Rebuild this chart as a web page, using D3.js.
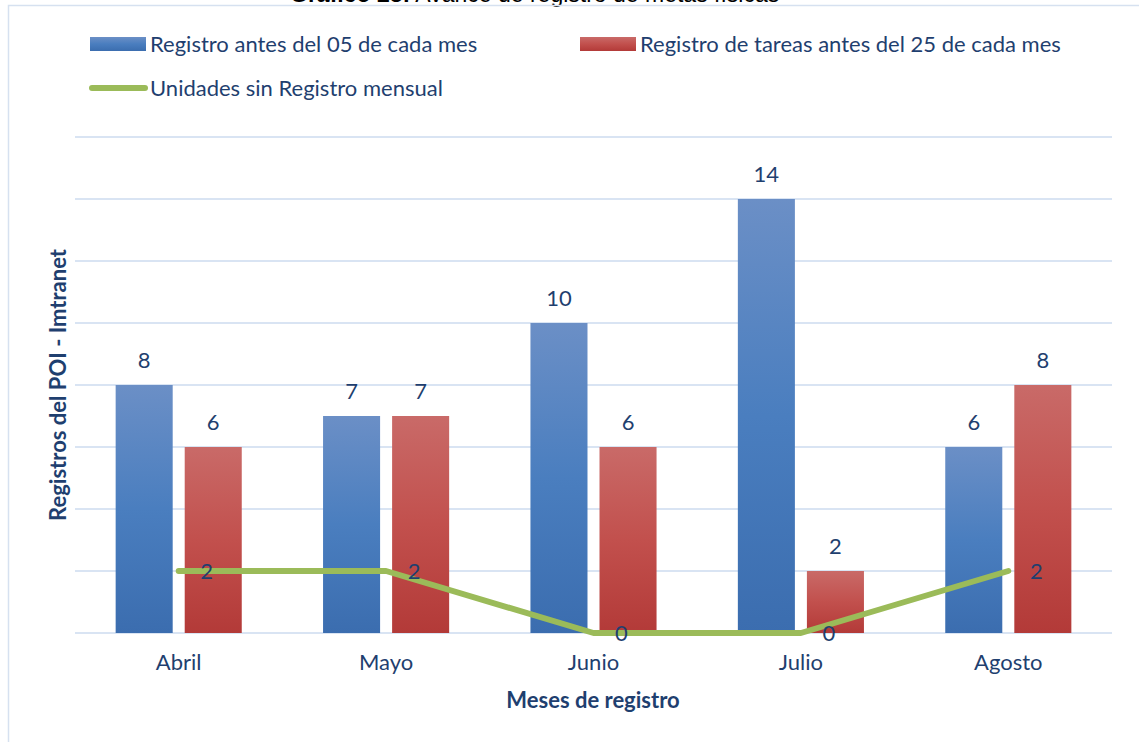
<!DOCTYPE html>
<html>
<head>
<meta charset="utf-8">
<script src="https://cdn.jsdelivr.net/npm/d3@7"></script>
<style>
  body { margin: 0; background: #fff; }
  svg { display: block; }
</style>
</head>
<body>
<div id="chart"></div>
<script>
// data
var months = ["Abril", "Mayo", "Junio", "Julio", "Agosto"];
var seriesNames = ["Registro antes del 05 de cada mes", "Registro de tareas antes del 25 de cada mes"];
var antes05 = [8, 7, 10, 14, 6];
var antes25 = [6, 7, 6, 2, 8];
var sinRegistro = [2, 2, 0, 0, 2];
var lineName = "Unidades sin Registro mensual";
var yTicks = [0, 2, 4, 6, 8, 10, 12, 14, 16];

var width = 1139, height = 742;
var font = "Lato, 'Open Sans', sans-serif";
var fontSize = 22;
var textColor = "#1f3f6f";

var svg = d3.select("#chart").append("svg")
    .attr("width", width)
    .attr("height", height);

// gradients for the bars
var defs = svg.append("defs");
function grad(id, top, mid, bottom) {
    var g = defs.append("linearGradient").attr("id", id)
        .attr("x1", 0).attr("y1", 0).attr("x2", 0).attr("y2", 1);
    g.append("stop").attr("offset", "0%").attr("stop-color", top);
    g.append("stop").attr("offset", "50%").attr("stop-color", mid);
    g.append("stop").attr("offset", "100%").attr("stop-color", bottom);
}
grad("gBlue", "#6b8fc6", "#4a7ebf", "#3b6daf");
grad("gRed", "#c96a68", "#c2504d", "#b33a38");
var fills = ["url(#gBlue)", "url(#gRed)"];

// title, cut off at the top edge as in the source
svg.append("text")
    .attr("x", 290).attr("y", 2)
    .attr("font-family", "'Liberation Sans', Arial, sans-serif")
    .attr("font-size", 23)
    .attr("fill", "#000")
    .html('<tspan font-weight="bold">Gráfico 23:</tspan> Avance de registro de metas físicas');

// chart border
svg.append("path")
    .attr("d", "M8.5," + height + "V5.5H" + width)
    .attr("fill", "none")
    .attr("stroke", "#d6e1f0")
    .attr("stroke-width", 1.5);

// scales
var x0 = d3.scaleBand().domain(months).range([75, 1112])
    .paddingInner(0.392).paddingOuter(0.196);
var x1 = d3.scaleBand().domain([0, 1]).range([0, x0.bandwidth()])
    .paddingInner(0.174).paddingOuter(0);
var y = d3.scaleLinear().domain([0, 16]).range([633, 137]);

// gridlines
svg.append("g").selectAll("line")
    .data(yTicks)
    .join("line")
    .attr("x1", 75).attr("x2", 1112)
    .attr("y1", d => y(d)).attr("y2", d => y(d))
    .attr("stroke", "#d9e4f3")
    .attr("stroke-width", 2);

// bars
var series = [antes05, antes25];
var groups = svg.append("g").selectAll("g")
    .data(months)
    .join("g")
    .attr("transform", d => `translate(${x0(d)},0)`);

groups.selectAll("rect")
    .data((m, i) => series.map((s, k) => ({ k: k, v: s[i] })))
    .join("rect")
    .attr("x", d => x1(d.k))
    .attr("width", x1.bandwidth())
    .attr("y", d => y(d.v))
    .attr("height", d => y(0) - y(d.v))
    .attr("fill", d => fills[d.k]);

groups.selectAll("text.val")
    .data((m, i) => series.map((s, k) => ({ k: k, v: s[i] })))
    .join("text")
    .attr("class", "val")
    .attr("x", d => x1(d.k) + x1.bandwidth() / 2)
    .attr("y", d => y(d.v) - 17)
    .attr("text-anchor", "middle")
    .attr("font-family", font)
    .attr("font-size", fontSize)
    .attr("fill", textColor)
    .text(d => d.v);

// line
var cx = m => x0(m) + x0.bandwidth() / 2;
var line = d3.line()
    .x((d, i) => cx(months[i]))
    .y(d => y(d));
svg.append("path")
    .datum(sinRegistro)
    .attr("d", line)
    .attr("fill", "none")
    .attr("stroke", "#9bbb59")
    .attr("stroke-width", 6)
    .attr("stroke-linecap", "round")
    .attr("stroke-linejoin", "round");

svg.append("g").selectAll("text")
    .data(sinRegistro)
    .join("text")
    .attr("x", (d, i) => cx(months[i]) + 28)
    .attr("y", d => y(d))
    .attr("dy", "0.36em")
    .attr("text-anchor", "middle")
    .attr("font-family", font)
    .attr("font-size", fontSize)
    .attr("fill", textColor)
    .text(d => d);

// x axis labels
var xAxis = svg.append("g")
    .attr("transform", "translate(0,633)")
    .call(d3.axisBottom(x0).tickSize(0).tickPadding(21));
xAxis.select(".domain").remove();
xAxis.selectAll("text")
    .attr("font-family", font)
    .attr("font-size", fontSize)
    .attr("fill", textColor);

// axis titles
svg.append("text")
    .attr("x", 593).attr("y", 708)
    .attr("text-anchor", "middle")
    .attr("font-family", font)
    .attr("font-weight", "bold")
    .attr("font-size", fontSize)
    .attr("fill", textColor)
    .text("Meses de registro");

svg.append("text")
    .attr("transform", "translate(66,385) rotate(-90)")
    .attr("text-anchor", "middle")
    .attr("font-family", font)
    .attr("font-weight", "bold")
    .attr("font-size", fontSize)
    .attr("fill", textColor)
    .text("Registros del POI - Imtranet");

// legend
var legend = svg.append("g");
var legendItems = [
    { name: seriesNames[0], x: 90, y: 44, type: "rect", fill: fills[0] },
    { name: seriesNames[1], x: 580, y: 44, type: "rect", fill: fills[1] },
    { name: lineName, x: 90, y: 88, type: "line" }
];
legendItems.forEach(function(it) {
    if (it.type === "rect") {
        legend.append("rect")
            .attr("x", it.x).attr("y", it.y - 7)
            .attr("width", 56).attr("height", 14)
            .attr("fill", it.fill);
    } else {
        legend.append("line")
            .attr("x1", it.x + 2).attr("x2", it.x + 55)
            .attr("y1", it.y).attr("y2", it.y)
            .attr("stroke", "#9bbb59")
            .attr("stroke-width", 6)
            .attr("stroke-linecap", "round");
    }
    legend.append("text")
        .attr("x", it.x + 60).attr("y", it.y)
        .attr("dy", "0.35em")
        .attr("font-family", font)
        .attr("font-size", fontSize)
        .attr("fill", textColor)
        .text(it.name);
});
</script>
</body>
</html>
